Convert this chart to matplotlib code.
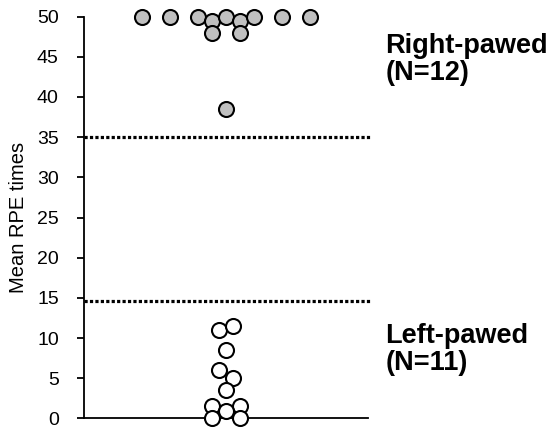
import matplotlib
matplotlib.use("Agg")
import matplotlib.pyplot as plt

plt.rcParams['font.family'] = ['Liberation Sans', 'DejaVu Sans']

# Right-pawed group (grey), x = horizontal jitter slot, y = mean RPE times
right_x = [-6, -4, -2, -1, 0, 1, 2, 4, 6, -1, 1, 0]
right_y = [50, 50, 50, 49.5, 50, 49.5, 50, 50, 50, 48, 48, 38.5]

# Left-pawed group (white)
left_x = [-0.5, 0.5, 0, -0.5, 0.5, 0, -1, 1, 0, -1, 1]
left_y = [11, 11.5, 8.5, 6, 5, 3.5, 1.5, 1.5, 0.9, 0, 0]

cutoffs = [35, 14.6]
yticks = [0, 5, 10, 15, 20, 25, 30, 35, 40, 45, 50]

fig = plt.figure(figsize=(5.55, 4.29), dpi=100)
ax = fig.add_axes([0.151, 0.0245, 0.512, 0.937])

for c in cutoffs:
    ax.plot([-10.14, 10.35], [c, c], color='black', lw=2.3,
            linestyle=(0, (1, 0.7)), clip_on=False, zorder=1)

ax.plot(right_x, right_y, 'o', ms=10.8, mfc='#c0c0c0', mec='black',
        mew=1.5, clip_on=False, zorder=3)
ax.plot(left_x, left_y, 'o', ms=10.8, mfc='white', mec='black',
        mew=1.5, clip_on=False, zorder=3)

ax.set_xlim(-10.14, 10.14)
ax.set_ylim(0, 50)
ax.set_yticks(yticks)
ax.set_xticks([])
ax.tick_params(axis='y', labelsize=14, length=5, width=1.3, pad=13)
ax.spines['top'].set_visible(False)
ax.spines['right'].set_visible(False)
ax.spines['left'].set_linewidth(1.3)
ax.spines['bottom'].set_linewidth(1.3)
ax.set_ylabel('Mean RPE times', fontsize=14.5, va='center')
ax.yaxis.set_label_coords(-0.229, 0.5)

fig.text(0.694, 0.862, 'Right-pawed\n(N=12)', fontsize=19.5, fontweight='bold',
         va='center', ha='left', linespacing=1.05)
fig.text(0.694, 0.186, 'Left-pawed\n(N=11)', fontsize=19.5, fontweight='bold',
         va='center', ha='left', linespacing=1.05)

fig.savefig('out.png', dpi=100)
